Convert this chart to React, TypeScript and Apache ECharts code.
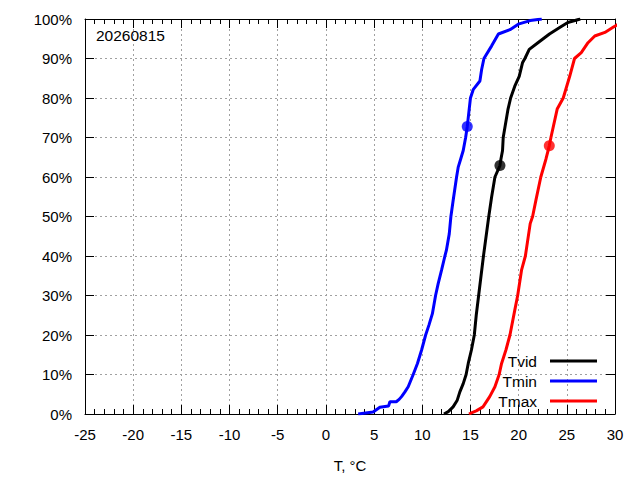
import React, { useEffect, useRef } from "react";
import * as echarts from "echarts";

// Tmin (blue) empirical CDF: temperature, cumulative %
const tminT = [3.35, 4.9, 5.6, 6.5, 6.64, 7.3, 7.6, 7.85, 8.2, 8.54, 9.06, 9.5, 9.93, 10.35, 10.69, 11.05, 11.38, 11.65, 12.0, 12.35, 12.5, 12.8, 12.97, 13.2, 13.56, 13.73, 13.98, 14.25, 14.5, 14.67, 14.87, 15.0, 15.3, 15.98, 16.16, 16.4, 17.2, 17.9, 19.1, 19.96, 21.2, 22.4];
const tminP = [0, 0.5, 1.7, 2.0, 3.1, 3.1, 3.7, 4.4, 5.6, 6.9, 10, 12.8, 16.2, 20, 22.5, 25.4, 30, 33, 36.4, 40, 41.4, 45.6, 50, 54, 60, 62.5, 64.5, 66.7, 70, 72.8, 77.2, 80, 82.2, 84.3, 87.2, 90, 93.2, 96.2, 97.3, 98.7, 99.6, 100];

// Tvid (black)
const tvidT = [12.25, 12.7, 13.2, 13.63, 13.9, 14.25, 14.55, 14.77, 15.1, 15.4, 15.6, 15.85, 16.35, 16.9, 17.2, 17.54, 18.06, 18.16, 18.33, 18.4, 18.9, 19.17, 19.6, 20.06, 20.4, 20.65, 21.1, 22.0, 23.2, 24.3, 25.1, 26.4];
const tvidP = [0, 0.6, 1.8, 3.5, 5.6, 7.7, 10, 12.8, 16.2, 20, 25, 30, 40, 50, 55, 60, 62.9, 64.5, 66.7, 70, 77.2, 80, 83, 85.5, 88.9, 90, 92.3, 94, 96.2, 97.9, 99.1, 100];

// Tmax (red)
const tmaxT = [14.85, 15.1, 15.6, 16.3, 17.0, 17.54, 17.98, 18.23, 18.68, 19.1, 19.6, 19.9, 20.3, 20.7, 21.2, 21.45, 21.8, 22.3, 22.83, 23.18, 23.35, 24.0, 24.63, 25.3, 25.8, 26.5, 27.2, 27.9, 28.95, 29.8, 30.3];
const tmaxP = [0, 0.3, 0.8, 1.8, 4.4, 6.9, 10, 12.8, 16.2, 20, 26.3, 30, 36.4, 40, 48.2, 50, 54.2, 60, 64.5, 67.9, 70, 77.2, 80, 85.5, 90, 91.5, 94, 95.7, 96.6, 97.9, 98.6];

// Highlighted points (Tvid, Tmin, Tmax)
const seriesNames = ["Tvid", "Tmin", "Tmax"];
const seriesColors = ["#000000", "#0000ff", "#ff0000"];
const markerT = [18.06, 14.67, 23.18];
const markerP = [62.9, 72.8, 67.9];

const dateLabel = "20260815";
const xTicksMin = -25;
const xTicksMax = 30;

const zip = (a: number[], b: number[]) => a.map((v, i) => [v, b[i]]);

export default function App() {
  const ref = useRef<HTMLDivElement>(null);
  useEffect(() => {
    if (!ref.current) return;
    const chart = echarts.init(ref.current, null, { renderer: "svg" });
    const font = "'Liberation Sans', Arial, sans-serif";
    const black = "#000";
    const grid = { color: "#a0a0a0", type: [2, 3] as any, width: 1 };
    const curves = [zip(tvidT, tvidP), zip(tminT, tminP), zip(tmaxT, tmaxP)];
    const lineSeries = curves.map((d, i) => ({
      name: seriesNames[i],
      type: "line",
      data: d,
      showSymbol: false,
      symbol: "none",
      lineStyle: { color: seriesColors[i], width: 3 },
      itemStyle: { color: seriesColors[i] },
      z: 3,
    }));
    const dotSeries = seriesNames.map((n, i) => ({
      name: n + "_pt",
      type: "scatter",
      data: [[markerT[i], markerP[i]]],
      symbol: "circle",
      symbolSize: 11,
      itemStyle: { color: seriesColors[i] },
      z: 4,
    }));
    const legendY = [361, 381, 401];
    const legendGraphics: any[] = [];
    seriesNames.forEach((n, i) => {
      legendGraphics.push({
        type: "text",
        x: 537,
        y: legendY[i],
        style: { text: n, fill: black, font: `15.5px ${font}`, textAlign: "right", textVerticalAlign: "middle" },
        z: 10,
      });
      legendGraphics.push({
        type: "line",
        shape: { x1: 550, y1: legendY[i], x2: 597, y2: legendY[i] },
        style: { stroke: seriesColors[i], lineWidth: 3 },
        z: 10,
      });
    });
    const axisCommon = {
      axisLine: { show: true, onZero: false, lineStyle: { color: black, width: 1 } },
      axisTick: { show: true, inside: true, length: 9, lineStyle: { color: black } },
    };
    chart.setOption({
      animation: false,
      backgroundColor: "#ffffff",
      textStyle: { fontFamily: font },
      grid: { left: 85, right: 25, top: 19, bottom: 66, containLabel: false, outerBoundsMode: "none" },
      xAxis: [
        {
          type: "value",
          min: xTicksMin,
          max: xTicksMax,
          interval: 5,
          position: "bottom",
          ...axisCommon,
          minorTick: { show: true, splitNumber: 5, length: 5, lineStyle: { color: black } },
          axisLabel: { color: black, fontSize: 15, margin: 13, fontFamily: font },
          splitLine: { show: true, lineStyle: grid },
          name: "T, °C",
          nameLocation: "middle",
          nameGap: 44,
          nameTextStyle: { color: black, fontSize: 15, fontFamily: font },
        },
        {
          type: "value",
          min: xTicksMin,
          max: xTicksMax,
          interval: 5,
          position: "top",
          ...axisCommon,
          minorTick: { show: true, splitNumber: 5, length: 5, lineStyle: { color: black } },
          axisLabel: { show: false },
          splitLine: { show: false },
        },
      ],
      yAxis: [
        {
          type: "value",
          min: 0,
          max: 100,
          interval: 10,
          position: "left",
          ...axisCommon,
          axisLabel: { color: black, fontSize: 15, margin: 13, formatter: "{value}%", fontFamily: font },
          splitLine: { show: true, lineStyle: grid },
        },
        {
          type: "value",
          min: 0,
          max: 100,
          interval: 10,
          position: "right",
          ...axisCommon,
          axisLabel: { show: false },
          splitLine: { show: false },
        },
      ],
      series: [...lineSeries, ...dotSeries],
      graphic: [
        {
          type: "text",
          x: 96,
          y: 35,
          style: { text: dateLabel, fill: black, font: `15.5px ${font}`, textVerticalAlign: "middle" },
          z: 10,
        },
        ...legendGraphics,
      ],
    });
    return () => chart.dispose();
  }, []);
  return <div ref={ref} style={{ position: "absolute", left: 0, top: 0, width: 640, height: 480 }} />;
}
